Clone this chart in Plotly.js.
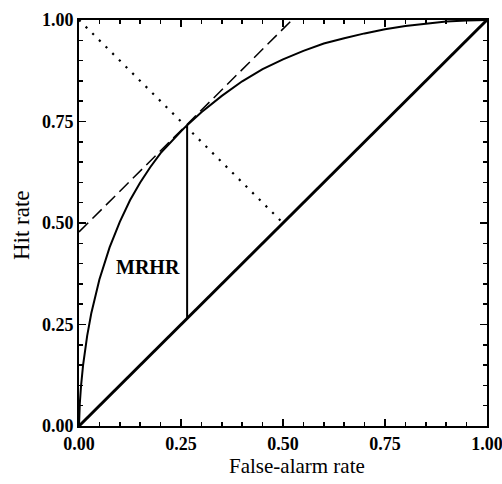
<!DOCTYPE html>
<html>
<head>
<meta charset="utf-8">
<script src="https://cdn.plot.ly/plotly-3.0.1.min.js"></script>
<style>html,body{margin:0;padding:0;background:#fff;}#chart{width:502px;height:484px;}</style>
</head>
<body>
<div id="chart"></div>
<script>
// ROC curve
var rocFalseAlarm = [0, 0.0005, 0.002, 0.005, 0.01, 0.02, 0.03, 0.05, 0.075, 0.1, 0.125, 0.15, 0.175, 0.2, 0.225, 0.25, 0.265, 0.28, 0.3, 0.35, 0.4, 0.45, 0.5, 0.55, 0.6, 0.65, 0.7, 0.75, 0.8, 0.85, 0.9, 0.95, 1];
var rocHit        = [0, 0.023, 0.056, 0.099, 0.150, 0.222, 0.277, 0.361, 0.440, 0.503, 0.556, 0.600, 0.638, 0.672, 0.700, 0.726, 0.741, 0.754, 0.773, 0.813, 0.849, 0.879, 0.903, 0.924, 0.942, 0.955, 0.967, 0.977, 0.985, 0.991, 0.996, 0.999, 1];
// No-skill diagonal
var diagX = [0, 1];
var diagY = [0, 1];
// Tangent (dashed) line
var tangentX = [0, 0.522];
var tangentY = [0.478, 1];
// Dotted line
var dottedX = [0, 0.5];
var dottedY = [1, 0.5];
// MRHR vertical segment
var mrhrX = [0.265, 0.265];
var mrhrY = [0.265, 0.741];
// Tick labels
var tickVals = [0, 0.25, 0.5, 0.75, 1];
var tickText = ['0.00', '0.25', '0.50', '0.75', '1.00'];
// Texts
var xTitle = 'False-alarm rate';
var yTitle = 'Hit rate';
var mrhrLabel = 'MRHR';

var serif = 'Liberation Serif, Times New Roman, serif';

var traces = [
  {x: diagX, y: diagY, mode: 'lines', line: {color: '#000', width: 3}, hoverinfo: 'skip'},
  {x: rocFalseAlarm, y: rocHit, mode: 'lines', line: {color: '#000', width: 2}, hoverinfo: 'skip'},
  {x: tangentX, y: tangentY, mode: 'lines', line: {color: '#000', width: 1.5, dash: '13px,6px'}, hoverinfo: 'skip'},
  {x: dottedX, y: dottedY, mode: 'lines', line: {color: '#000', width: 2.2, dash: '2.2px,7.2px'}, hoverinfo: 'skip'},
  {x: mrhrX, y: mrhrY, mode: 'lines', line: {color: '#000', width: 2}, hoverinfo: 'skip'}
];

var axisCommon = {
  range: [0, 1],
  tickmode: 'array',
  tickvals: tickVals,
  ticktext: tickText,
  ticks: 'inside',
  ticklen: 7,
  tickwidth: 1.5,
  tickcolor: '#000',
  minor: {dtick: 0.05, tick0: 0, ticks: 'inside', ticklen: 4, tickwidth: 1.5, tickcolor: '#000', showgrid: false},
  showline: true,
  linewidth: 2,
  linecolor: '#000',
  mirror: 'allticks',
  showgrid: false,
  zeroline: false,
  fixedrange: true,
  ticklabeloverflow: 'allow',
  tickfont: {family: serif, size: 18, color: '#000', weight: 'bold'}
};

var layout = {
  width: 502,
  height: 484,
  margin: {l: 79, r: 15, t: 20, b: 58},
  paper_bgcolor: '#fff',
  plot_bgcolor: '#fff',
  showlegend: false,
  xaxis: Object.assign({}, axisCommon),
  yaxis: Object.assign({}, axisCommon),
  annotations: [
    {x: 0.168, y: 0.392, xref: 'x', yref: 'y', text: '<b>' + mrhrLabel + '</b>', showarrow: false,
     font: {family: serif, size: 20, color: '#000'}},
    {x: 0.534, y: -0.099, xref: 'paper', yref: 'paper', text: xTitle, showarrow: false,
     xanchor: 'center', yanchor: 'middle', font: {family: serif, size: 21, color: '#000'}},
    {x: -0.142, y: 0.495, xref: 'paper', yref: 'paper', text: yTitle, showarrow: false, textangle: -90,
     xanchor: 'center', yanchor: 'middle', font: {family: serif, size: 23, color: '#000'}}
  ]
};

Plotly.newPlot('chart', traces, layout, {displayModeBar: false, staticPlot: true});
</script>
</body>
</html>
